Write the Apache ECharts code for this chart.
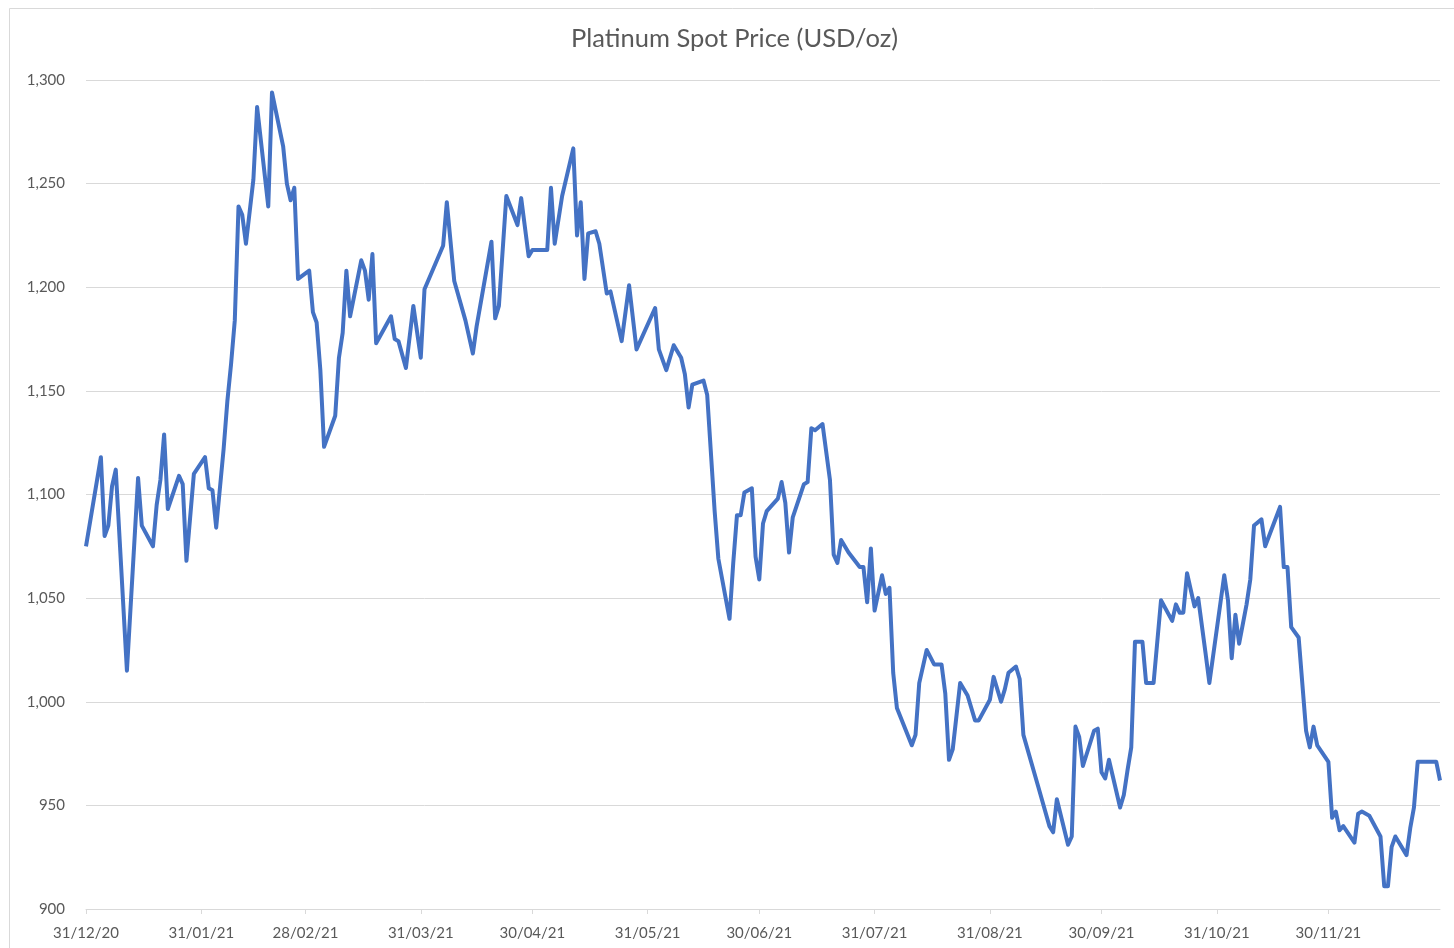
<!DOCTYPE html>
<html>
<head>
<meta charset="utf-8">
<title>Platinum Spot Price</title>
<script src="https://cdn.jsdelivr.net/npm/echarts@6/dist/echarts.min.js"></script>
<style>
	html, body { margin: 0; padding: 0; background: #fff; }
	#chart { width: 1454px; height: 948px; }
</style>
</head>
<body>
<div id="chart"></div>
<script>
// dates of the points
const dates = [
	'2020-12-31', '2021-01-04', '2021-01-05', '2021-01-06', '2021-01-07', '2021-01-08', '2021-01-11', '2021-01-14',
	'2021-01-15', '2021-01-18', '2021-01-19', '2021-01-20', '2021-01-21', '2021-01-22', '2021-01-25', '2021-01-26',
	'2021-01-27', '2021-01-29', '2021-02-01', '2021-02-02', '2021-02-03', '2021-02-04', '2021-02-06', '2021-02-07',
	'2021-02-08', '2021-02-09', '2021-02-10', '2021-02-11', '2021-02-12', '2021-02-14', '2021-02-15', '2021-02-18',
	'2021-02-19', '2021-02-22', '2021-02-23', '2021-02-24', '2021-02-25', '2021-02-26', '2021-03-01', '2021-03-02',
	'2021-03-03', '2021-03-04', '2021-03-05', '2021-03-08', '2021-03-09', '2021-03-10', '2021-03-11', '2021-03-12',
	'2021-03-15', '2021-03-16', '2021-03-17', '2021-03-18', '2021-03-19', '2021-03-23', '2021-03-24', '2021-03-25',
	'2021-03-27', '2021-03-29', '2021-03-31', '2021-04-01', '2021-04-06', '2021-04-07', '2021-04-09', '2021-04-12',
	'2021-04-14', '2021-04-15', '2021-04-19', '2021-04-20', '2021-04-21', '2021-04-23', '2021-04-26', '2021-04-27',
	'2021-04-29', '2021-04-30', '2021-05-04', '2021-05-05', '2021-05-06', '2021-05-08', '2021-05-11', '2021-05-12',
	'2021-05-13', '2021-05-14', '2021-05-15', '2021-05-17', '2021-05-18', '2021-05-20', '2021-05-21', '2021-05-24',
	'2021-05-26', '2021-05-28', '2021-06-02', '2021-06-03', '2021-06-05', '2021-06-07', '2021-06-09', '2021-06-10',
	'2021-06-11', '2021-06-12', '2021-06-15', '2021-06-16', '2021-06-18', '2021-06-19', '2021-06-22', '2021-06-23',
	'2021-06-24', '2021-06-25', '2021-06-26', '2021-06-28', '2021-06-29', '2021-06-30', '2021-07-01', '2021-07-02',
	'2021-07-05', '2021-07-06', '2021-07-07', '2021-07-08', '2021-07-09', '2021-07-12', '2021-07-13', '2021-07-14',
	'2021-07-15', '2021-07-17', '2021-07-19', '2021-07-20', '2021-07-21', '2021-07-22', '2021-07-24', '2021-07-27',
	'2021-07-28', '2021-07-29', '2021-07-30', '2021-07-31', '2021-08-02', '2021-08-03', '2021-08-04', '2021-08-05',
	'2021-08-06', '2021-08-10', '2021-08-11', '2021-08-12', '2021-08-14', '2021-08-16', '2021-08-18', '2021-08-19',
	'2021-08-20', '2021-08-21', '2021-08-23', '2021-08-25', '2021-08-27', '2021-08-28', '2021-08-31', '2021-09-01',
	'2021-09-03', '2021-09-04', '2021-09-05', '2021-09-07', '2021-09-08', '2021-09-09', '2021-09-13', '2021-09-16',
	'2021-09-17', '2021-09-18', '2021-09-21', '2021-09-22', '2021-09-23', '2021-09-24', '2021-09-25', '2021-09-28',
	'2021-09-29', '2021-09-30', '2021-10-01', '2021-10-02', '2021-10-05', '2021-10-06', '2021-10-07', '2021-10-08',
	'2021-10-09', '2021-10-11', '2021-10-12', '2021-10-14', '2021-10-16', '2021-10-19', '2021-10-20', '2021-10-21',
	'2021-10-22', '2021-10-23', '2021-10-25', '2021-10-26', '2021-10-28', '2021-10-29', '2021-11-02', '2021-11-03',
	'2021-11-04', '2021-11-05', '2021-11-06', '2021-11-08', '2021-11-09', '2021-11-10', '2021-11-12', '2021-11-13',
	'2021-11-17', '2021-11-18', '2021-11-19', '2021-11-20', '2021-11-22', '2021-11-24', '2021-11-25', '2021-11-26',
	'2021-11-27', '2021-11-30', '2021-12-01', '2021-12-02', '2021-12-03', '2021-12-04', '2021-12-07', '2021-12-08',
	'2021-12-09', '2021-12-11', '2021-12-14', '2021-12-15', '2021-12-16', '2021-12-17', '2021-12-18', '2021-12-21',
	'2021-12-22', '2021-12-23', '2021-12-24', '2021-12-29', '2021-12-30'
]

// USD/oz
const prices = [
	1075, 1118, 1080, 1085, 1104, 1112, 1015, 1108,
	1085, 1075, 1095, 1107, 1129, 1093, 1109, 1105,
	1068, 1110, 1118, 1103, 1102, 1084, 1122, 1145,
	1163, 1184, 1239, 1235, 1221, 1252, 1287, 1239,
	1294, 1268, 1250, 1242, 1248, 1204, 1208, 1188,
	1183, 1160, 1123, 1138, 1166, 1178, 1208, 1186,
	1213, 1208, 1194, 1216, 1173, 1186, 1175, 1174,
	1161, 1191, 1166, 1199, 1220, 1241, 1203, 1184,
	1168, 1181, 1222, 1185, 1191, 1244, 1230, 1243,
	1215, 1218, 1218, 1248, 1221, 1244, 1267, 1225,
	1241, 1204, 1226, 1227, 1221, 1197, 1198, 1174,
	1201, 1170, 1190, 1170, 1160, 1172, 1166, 1158,
	1142, 1153, 1155, 1148, 1092, 1069, 1040, 1067,
	1090, 1090, 1101, 1103, 1070, 1059, 1086, 1092,
	1098, 1106, 1096, 1072, 1089, 1105, 1106, 1132,
	1131, 1134, 1107, 1071, 1067, 1078, 1072, 1065,
	1065, 1048, 1074, 1044, 1061, 1052, 1055, 1014,
	997, 979, 984, 1009, 1025, 1018, 1018, 1004,
	972, 977, 1009, 1003, 991, 991, 1001, 1012,
	1000, 1006, 1014, 1017, 1011, 984, 959, 940,
	937, 953, 931, 935, 988, 983, 969, 986,
	987, 966, 963, 972, 949, 955, 967, 978,
	1029, 1029, 1009, 1009, 1049, 1039, 1047, 1043,
	1043, 1062, 1046, 1050, 1023, 1009, 1061, 1049,
	1021, 1042, 1028, 1047, 1059, 1085, 1088, 1075,
	1094, 1065, 1065, 1036, 1031, 986, 978, 988,
	979, 971, 944, 947, 938, 940, 932, 946,
	947, 945, 935, 911, 911, 930, 935, 926,
	939, 949, 971, 971, 962
]

// month-end tick labels on the date axis
const tickDates = [
	'2020-12-31', '2021-01-31', '2021-02-28', '2021-03-31', '2021-04-30', '2021-05-31',
	'2021-06-30', '2021-07-31', '2021-08-31', '2021-09-30', '2021-10-31', '2021-11-30'
]

const firstDate = '2020-12-31'
const lastDate = '2021-12-30'

const textColor = '#595959'
const lineColor = '#d9d9d9'
const fontFamily = 'Lato, "Open Sans", sans-serif'

// 'YYYY-MM-DD' -> timestamp (local time)
const toTime = s => {
	const [y, m, d] = s.split('-').map(Number)
	return new Date(y, m - 1, d).getTime()
}
const pad = n => (n < 10 ? '0' + n : '' + n)
// dd/mm/yy
const formatDate = val => {
	const d = new Date(val)
	return pad(d.getDate()) + '/' + pad(d.getMonth() + 1) + '/' + pad(d.getFullYear() % 100)
}

const tickValues = tickDates.map(toTime)

const chart = echarts.init(document.getElementById('chart'))

chart.setOption({
	animation: false,
	backgroundColor: '#fff',
	title: {
		text: 'Platinum Spot Price (USD/oz)',
		left: 566,
		top: 21,
		textStyle: {
			color: textColor,
			fontSize: 25.5,
			fontWeight: 'normal',
			fontFamily,
		},
	},
	// chart area border
	graphic: [
		{
			type: 'rect',
			left: 7,
			top: 6,
			shape: { width: 1500, height: 1000 },
			style: { fill: 'none', stroke: lineColor, lineWidth: 1 },
			silent: true,
		},
	],
	grid: {
		left: 86,
		right: 14,
		top: 80,
		bottom: 39,
		containLabel: false,
	},
	// date axis kept as a value axis of timestamps so the month-end ticks can be placed
	xAxis: {
		type: 'value',
		min: toTime(firstDate),
		max: toTime(lastDate),
		axisLine: { show: true, onZero: false, lineStyle: { color: lineColor, width: 1 } },
		axisTick: {
			show: true,
			customValues: tickValues,
			length: 5,
			lineStyle: { color: lineColor },
		},
		axisLabel: {
			customValues: tickValues,
			formatter: formatDate,
			color: textColor,
			fontSize: 15,
			fontFamily,
			margin: 17,
		},
		splitLine: { show: false },
	},
	yAxis: {
		type: 'value',
		min: 900,
		max: 1300,
		interval: 50,
		axisLine: { show: false },
		axisTick: { show: false },
		axisLabel: {
			color: textColor,
			fontSize: 15,
			fontFamily,
			margin: 21,
			formatter: v => v.toLocaleString('en-US'),
		},
		splitLine: { lineStyle: { color: lineColor, width: 1 } },
	},
	series: [
		{
			name: 'Platinum',
			type: 'line',
			data: dates.map((d, i) => [toTime(d), prices[i]]),
			showSymbol: false,
			smooth: false,
			lineStyle: { color: '#4472c4', width: 4, join: 'round' },
		},
	],
})
</script>
</body>
</html>
